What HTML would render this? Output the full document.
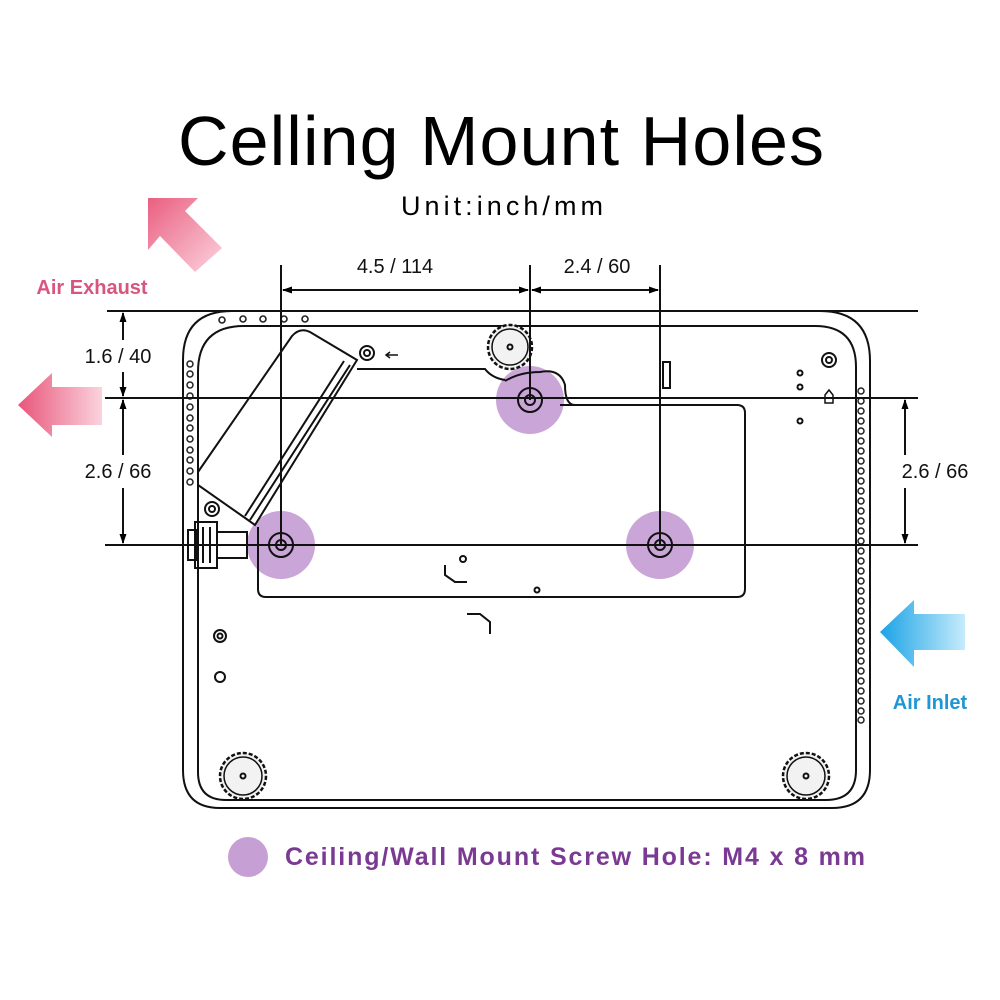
<!DOCTYPE html>
<html><head><meta charset="utf-8"><style>html,body{margin:0;padding:0;background:#fff}svg{display:block}</style></head>
<body>
<svg width="1000" height="1000" viewBox="0 0 1000 1000" xmlns="http://www.w3.org/2000/svg" font-family="Liberation Sans, sans-serif">
<defs>
<linearGradient id="pk" x1="0" y1="0" x2="1" y2="0"><stop offset="0" stop-color="#e8557a"/><stop offset="1" stop-color="#fbd3de"/></linearGradient>
<linearGradient id="pk2" x1="0" y1="0" x2="1" y2="1"><stop offset="0" stop-color="#ea5f80"/><stop offset="1" stop-color="#fbd3de"/></linearGradient>
<linearGradient id="bl" x1="0" y1="0" x2="1" y2="0"><stop offset="0" stop-color="#1aa3e6"/><stop offset="1" stop-color="#c6ebfb"/></linearGradient>
<marker id="ar" markerWidth="10" markerHeight="10" refX="9" refY="5" orient="auto-start-reverse" markerUnits="userSpaceOnUse"><path d="M0,1.5 L10,5 L0,8.5 Z" fill="#000"/></marker>
</defs>
<text x="178" y="165" font-size="70" textLength="646" lengthAdjust="spacing">Celling Mount Holes</text>
<text x="401" y="215" font-size="27" textLength="202" lengthAdjust="spacing">Unit:inch/mm</text>

<polygon points="148,198 198,198 185,211 222,248 195,272 160,236 148,250" fill="url(#pk2)"/>
<polygon points="18,405 52,373 52,387 102,387 102,425 52,425 52,437" fill="url(#pk)"/>
<text x="92" y="294" font-size="20" font-weight="bold" fill="#d9557e" text-anchor="middle">Air Exhaust</text>
<polygon points="880,632 914,600 914,614 965,614 965,650 914,650 914,667" fill="url(#bl)"/>
<text x="930" y="709" font-size="20" font-weight="bold" fill="#1f97d4" text-anchor="middle">Air Inlet</text>

<g fill="#b887c9" opacity="0.75">
<circle cx="281" cy="545" r="34"/><circle cx="530" cy="400" r="34"/><circle cx="660" cy="545" r="34"/>
</g>

<g fill="none" stroke="#111" stroke-width="2">
<path d="M183,360 Q183,311 232,311 L820,311 Q870,311 870,361 L870,770 Q870,808 832,808 L220,808 Q183,808 183,770 Z"/>
<path d="M198,372 Q198,326 244,326 L815,326 Q856,326 856,367 L856,770 Q856,800 826,800 L226,800 Q198,800 198,772 Z"/>
<path d="M357,369 L485,369 Q492,378 505,380 M560,405 L737,405 Q745,405 745,413 L745,589 Q745,597 737,597 L266,597 Q258,597 258,589 L258,527"/>
<path d="M505,381 Q520,372 540,372 Q560,368 565,385 Q565,405 575,405"/>
<path d="M198,472 L292,336 Q300,327 310,332 L357,360 L255,525 L248,520 L198,485 Z"/>
<path d="M350,365 L250,520 M344,361 L245,516"/>
<rect x="195" y="522" width="22" height="46"/><rect x="188" y="530" width="8" height="30"/><rect x="217" y="532" width="30" height="26"/>
<path d="M203,527 L203,563 M210,527 L210,563"/>
<circle cx="212" cy="509" r="7"/><circle cx="212" cy="509" r="3"/>
<g fill="#f2f2f2">
<circle cx="510" cy="347" r="22" stroke-dasharray="4 2" stroke-width="2.5"/>
<circle cx="243" cy="776" r="23" stroke-dasharray="4 2" stroke-width="2.5"/>
<circle cx="806" cy="776" r="23" stroke-dasharray="4 2" stroke-width="2.5"/>
</g>
<circle cx="510" cy="347" r="18" stroke-width="1.5"/><circle cx="510" cy="347" r="2.5"/>
<circle cx="243" cy="776" r="19" stroke-width="1.5"/><circle cx="243" cy="776" r="2.5"/>
<circle cx="806" cy="776" r="19" stroke-width="1.5"/><circle cx="806" cy="776" r="2.5"/>
<circle cx="281" cy="545" r="12"/><circle cx="281" cy="545" r="5"/>
<circle cx="530" cy="400" r="12"/><circle cx="530" cy="400" r="5"/>
<circle cx="660" cy="545" r="12"/><circle cx="660" cy="545" r="5"/>
<circle cx="367" cy="353" r="7"/><circle cx="367" cy="353" r="3"/>
<circle cx="829" cy="360" r="7"/><circle cx="829" cy="360" r="3"/>
<circle cx="220" cy="636" r="6"/><circle cx="220" cy="636" r="2.5"/>
<circle cx="220" cy="677" r="5"/>
<circle cx="800" cy="373" r="2.5"/><circle cx="800" cy="387" r="2.5"/><circle cx="800" cy="421" r="2.5"/>
<circle cx="463" cy="559" r="3"/><circle cx="537" cy="590" r="2.5"/>
<path d="M445,565 L445,575 L455,582 L467,582"/>
<path d="M467,614 L480,614 L490,622 L490,634"/>
<rect x="663" y="362" width="7" height="26"/>
<path d="M825,395 L829,390 L833,395 L833,403 L825,403 Z" stroke-width="1.5"/>
<path d="M390,352 L386,355 L390,358 M387,355 L398,355" stroke-width="1.5"/>
</g>
<g fill="none" stroke="#222" stroke-width="1.6">
<circle cx="222" cy="320" r="3"/><circle cx="243" cy="319" r="3"/><circle cx="263" cy="319" r="3"/><circle cx="284" cy="319" r="3"/><circle cx="305" cy="319" r="3"/>
</g>
<g fill="none" stroke="#222" stroke-width="1.5">
<circle cx="190" cy="364" r="3"/><circle cx="190" cy="374" r="3"/><circle cx="190" cy="385" r="3"/><circle cx="190" cy="396" r="3"/><circle cx="190" cy="407" r="3"/><circle cx="190" cy="418" r="3"/><circle cx="190" cy="428" r="3"/><circle cx="190" cy="439" r="3"/><circle cx="190" cy="450" r="3"/><circle cx="190" cy="460" r="3"/><circle cx="190" cy="471" r="3"/><circle cx="190" cy="482" r="3"/>
</g>
<g fill="none" stroke="#222" stroke-width="1.5">
<circle cx="861" cy="391" r="3"/><circle cx="861" cy="401" r="3"/><circle cx="861" cy="411" r="3"/><circle cx="861" cy="421" r="3"/><circle cx="861" cy="431" r="3"/><circle cx="861" cy="441" r="3"/><circle cx="861" cy="451" r="3"/><circle cx="861" cy="461" r="3"/><circle cx="861" cy="471" r="3"/><circle cx="861" cy="481" r="3"/><circle cx="861" cy="491" r="3"/><circle cx="861" cy="501" r="3"/><circle cx="861" cy="511" r="3"/><circle cx="861" cy="521" r="3"/><circle cx="861" cy="531" r="3"/><circle cx="861" cy="541" r="3"/><circle cx="861" cy="551" r="3"/><circle cx="861" cy="561" r="3"/><circle cx="861" cy="571" r="3"/><circle cx="861" cy="581" r="3"/><circle cx="861" cy="591" r="3"/><circle cx="861" cy="601" r="3"/><circle cx="861" cy="611" r="3"/><circle cx="861" cy="621" r="3"/><circle cx="861" cy="631" r="3"/><circle cx="861" cy="641" r="3"/><circle cx="861" cy="651" r="3"/><circle cx="861" cy="661" r="3"/><circle cx="861" cy="671" r="3"/><circle cx="861" cy="681" r="3"/><circle cx="861" cy="691" r="3"/><circle cx="861" cy="701" r="3"/><circle cx="861" cy="711" r="3"/><circle cx="861" cy="720" r="3"/>
</g>

<g stroke="#111" stroke-width="2" fill="none">
<line x1="107" y1="311" x2="918" y2="311"/>
<line x1="105" y1="398" x2="918" y2="398"/>
<line x1="105" y1="545" x2="918" y2="545"/>
<line x1="281" y1="265" x2="281" y2="545"/>
<line x1="530" y1="265" x2="530" y2="400"/>
<line x1="660" y1="265" x2="660" y2="545"/>
<line x1="283" y1="290" x2="528" y2="290" marker-start="url(#ar)" marker-end="url(#ar)"/>
<line x1="532" y1="290" x2="658" y2="290" marker-start="url(#ar)" marker-end="url(#ar)"/>
<line x1="123" y1="313" x2="123" y2="340" marker-start="url(#ar)"/>
<line x1="123" y1="372" x2="123" y2="396" marker-end="url(#ar)"/>
<line x1="123" y1="400" x2="123" y2="455" marker-start="url(#ar)"/>
<line x1="123" y1="488" x2="123" y2="543" marker-end="url(#ar)"/>
<line x1="905" y1="400" x2="905" y2="455" marker-start="url(#ar)"/>
<line x1="905" y1="488" x2="905" y2="543" marker-end="url(#ar)"/>
</g>
<g font-size="20" fill="#111" text-anchor="middle">
<text x="395" y="273">4.5 / 114</text>
<text x="597" y="273">2.4 / 60</text>
<text x="118" y="363">1.6 / 40</text>
<text x="118" y="478">2.6 / 66</text>
<text x="935" y="478">2.6 / 66</text>
</g>

<circle cx="248" cy="857" r="20" fill="#b887c9" opacity="0.8"/>
<text x="285" y="865" font-size="25" font-weight="bold" fill="#7a3a93" textLength="580" lengthAdjust="spacing">Ceiling/Wall Mount Screw Hole: M4 x 8 mm</text>
</svg>
</body></html>
